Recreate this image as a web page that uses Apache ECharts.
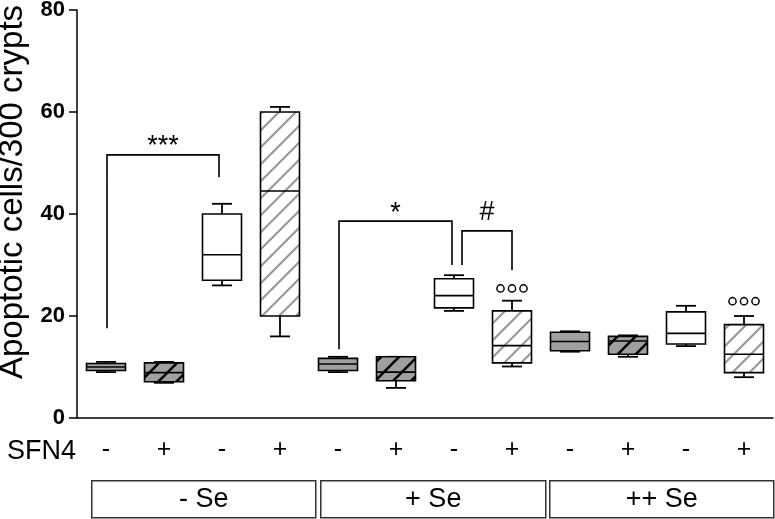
<!DOCTYPE html>
<html><head><meta charset="utf-8">
<script src="https://cdn.jsdelivr.net/npm/echarts@6/dist/echarts.min.js"></script>
<style>html,body{margin:0;padding:0;background:#fff}#c{width:775px;height:519px}</style>
</head><body><div id="c"></div>
<script>
// ---------- data ----------
const categories = ['-', '+', '-', '+', '-', '+', '-', '+', '-', '+', '-', '+'];
const groups = ['- Se', '+ Se', '++ Se'];
const yTicks = [0, 20, 40, 60, 80];
const yTitle = 'Apoptotic cells/300 crypts';
const xTitle = 'SFN4';
// [min, q1, median, q3, max]
const boxValues = [
  [9, 9.3, 10, 10.7, 11],
  [6.9, 7.1, 8.9, 10.8, 11],
  [26, 27, 32, 40, 42],
  [16, 20, 44.5, 60, 61],
  [9, 9.3, 10.6, 11.7, 12],
  [5.9, 7.3, 9, 12, 12],
  [21, 21.6, 24, 27.3, 28],
  [10.1, 10.8, 14.2, 21, 23],
  [13, 13.2, 15, 16.8, 17],
  [12, 12.5, 15.1, 16, 16.2],
  [14.1, 14.5, 16.6, 20.8, 22],
  [8, 8.9, 12.5, 18.3, 20]
];
const fillKinds = ['gray', 'darkHatch', 'white', 'lightHatch',
                   'gray', 'darkHatch', 'white', 'lightHatch',
                   'gray', 'darkHatch', 'white', 'lightHatch'];
const outliers = [[10, 24.8]];
const tripleCircles = [[7, 25.4], [11, 22.9]];
// [fromCategory, startValue, topValue, toCategory, endValue]
const brackets = [
  [0, 17.6, 51.6, 2, 47.2],
  [4, 13.5, 38.6, 6, 30],
  [6, 30, 36.7, 7, 29]
];
const bracketLabels = ['***', '*', '#'];

// ---------- styling ----------
const FONT = 'Liberation Sans, Arial, sans-serif';
const bracketNudge = [[1, -3], [1, -2], [8, 0]]; // px offsets for bracket legs
const labelLift = [-8, -8, -18];                  // px offsets for bracket labels
function hatch(bg, fg, size, lw) {
  const c = document.createElement('canvas');
  c.width = c.height = size;
  const g = c.getContext('2d');
  g.fillStyle = bg; g.fillRect(0, 0, size, size);
  g.strokeStyle = fg; g.lineWidth = lw;
  g.beginPath();
  for (const o of [-size, 0, size]) { g.moveTo(o - 1, size + 1); g.lineTo(o + size + 1, -1); }
  g.stroke();
  return { image: c, repeat: 'repeat' };
}
const fills = {
  gray: '#a0a0a0',
  white: '#ffffff',
  darkHatch: hatch('#a0a0a0', '#000000', 18, 2.6),
  lightHatch: hatch('#ffffff', '#9a9a9a', 17, 2.2)
};

const chart = echarts.init(document.getElementById('c'), null, { renderer: 'canvas' });

const boxData = boxValues.map((v, i) => [i, ...v]);

const option = {
  animation: false,
  backgroundColor: '#fff',
  grid: { left: 77, right: 2, top: 10, bottom: 101, containLabel: false, outerBoundsMode: 'none' },
  xAxis: {
    type: 'category',
    data: categories,
    axisLine: { lineStyle: { color: '#000', width: 1.5 } },
    axisTick: { alignWithLabel: true, length: 9, lineStyle: { color: '#000', width: 1.5 } },
    axisLabel: { color: '#000', fontSize: 25, fontFamily: FONT, margin: 20, interval: 0 },
    splitLine: { show: false }
  },
  yAxis: {
    type: 'value', min: 0, max: 80, interval: 20,
    name: yTitle, nameLocation: 'middle', nameGap: 46,
    nameTextStyle: { color: '#000', fontSize: 33, fontFamily: FONT, padding: [0, 0, 0, 44] },
    axisLine: { show: true, lineStyle: { color: '#000', width: 1.5 } },
    axisTick: { show: true, length: 8, lineStyle: { color: '#000', width: 1.5 } },
    axisLabel: {
      color: '#000', fontSize: 22, fontWeight: 'bold', fontFamily: FONT, margin: 12,
      formatter: v => yTicks.includes(v) ? String(v) : ''
    },
    splitLine: { show: false }
  },
  series: [
    {
      type: 'custom',
      data: boxData,
      encode: { x: 0, y: [1, 2, 3, 4, 5] },
      renderItem(params, api) {
        const i = api.value(0);
        const x = api.coord([i, 0])[0];
        const y = k => api.coord([i, api.value(k)])[1];
        const yMin = y(1), yQ1 = y(2), yMed = y(3), yQ3 = y(4), yMax = y(5);
        const bw = 39, cw = 20;
        const ls = { stroke: '#000', lineWidth: 1.8 };
        return {
          type: 'group',
          children: [
            { type: 'line', shape: { x1: x, y1: yMax, x2: x, y2: yQ3 }, style: ls },
            { type: 'line', shape: { x1: x, y1: yQ1, x2: x, y2: yMin }, style: ls },
            { type: 'line', shape: { x1: x - cw / 2, y1: yMax, x2: x + cw / 2, y2: yMax }, style: ls },
            { type: 'line', shape: { x1: x - cw / 2, y1: yMin, x2: x + cw / 2, y2: yMin }, style: ls },
            { type: 'rect', shape: { x: x - bw / 2, y: yQ3, width: bw, height: yQ1 - yQ3 },
              style: { fill: fills[fillKinds[i]], stroke: '#000', lineWidth: 1.6 } },
            { type: 'line', shape: { x1: x - bw / 2, y1: yMed, x2: x + bw / 2, y2: yMed }, style: { stroke: '#000', lineWidth: 1.6 } }
          ]
        };
      },
      z: 2
    },
    {
      type: 'scatter',
      data: outliers,
      symbol: 'emptyCircle', symbolSize: 8,
      itemStyle: { color: '#fff', borderColor: '#000', borderWidth: 1.5 },
      z: 3
    },
    {
      type: 'custom',
      data: tripleCircles,
      renderItem(params, api) {
        const p = api.coord([api.value(0), api.value(1)]);
        return {
          type: 'group',
          children: [-11.5, 0, 11.5].map(dx => ({
            type: 'circle', shape: { cx: p[0] + dx, cy: p[1], r: 3.6 },
            style: { fill: '#fff', stroke: '#000', lineWidth: 1.5 }
          }))
        };
      },
      z: 3
    },
    {
      type: 'custom',
      data: brackets.map((b, k) => [...b, k]),
      encode: { x: [0, 3], y: [1, 2, 4] },
      renderItem(params, api) {
        const k = api.value(5);
        const n = bracketNudge[k];
        const x1 = api.coord([api.value(0), 0])[0] + n[0];
        const x2 = api.coord([api.value(3), 0])[0] + n[1];
        const y1 = api.coord([0, api.value(1)])[1];
        const yt = api.coord([0, api.value(2)])[1];
        const y2 = api.coord([0, api.value(4)])[1];
        const ls = { stroke: '#000', lineWidth: 1.6, fill: 'none' };
        return {
          type: 'group',
          children: [
            { type: 'polyline', shape: { points: [[x1, y1], [x1, yt], [x2, yt], [x2, y2]] }, style: ls },
            { type: 'text', x: (x1 + x2) / 2, y: yt + labelLift[k],
              style: { text: bracketLabels[k], fill: '#000', fontSize: 27, fontFamily: FONT, align: 'center', verticalAlign: 'middle' } }
          ]
        };
      },
      z: 4
    }
  ],
  graphic: [
    { type: 'text', left: 7, top: 438,
      style: { text: xTitle, fill: '#000', fontSize: 27, fontFamily: FONT } },
    ...groups.map((g, k) => {
      const xs = [[91, 315], [320, 545], [549, 773]][k];
      return {
        type: 'group', left: xs[0], top: 480,
        children: [
          { type: 'rect', shape: { x: 0, y: 0, width: xs[1] - xs[0], height: 37 },
            style: { fill: '#fff', stroke: '#333', lineWidth: 1.5 } },
          { type: 'text', x: (xs[1] - xs[0]) / 2, y: 19,
            style: { text: g, fill: '#000', fontSize: 27, fontFamily: FONT, align: 'center', verticalAlign: 'middle' } }
        ]
      };
    })
  ]
};
chart.setOption(option);
</script>
</body></html>
